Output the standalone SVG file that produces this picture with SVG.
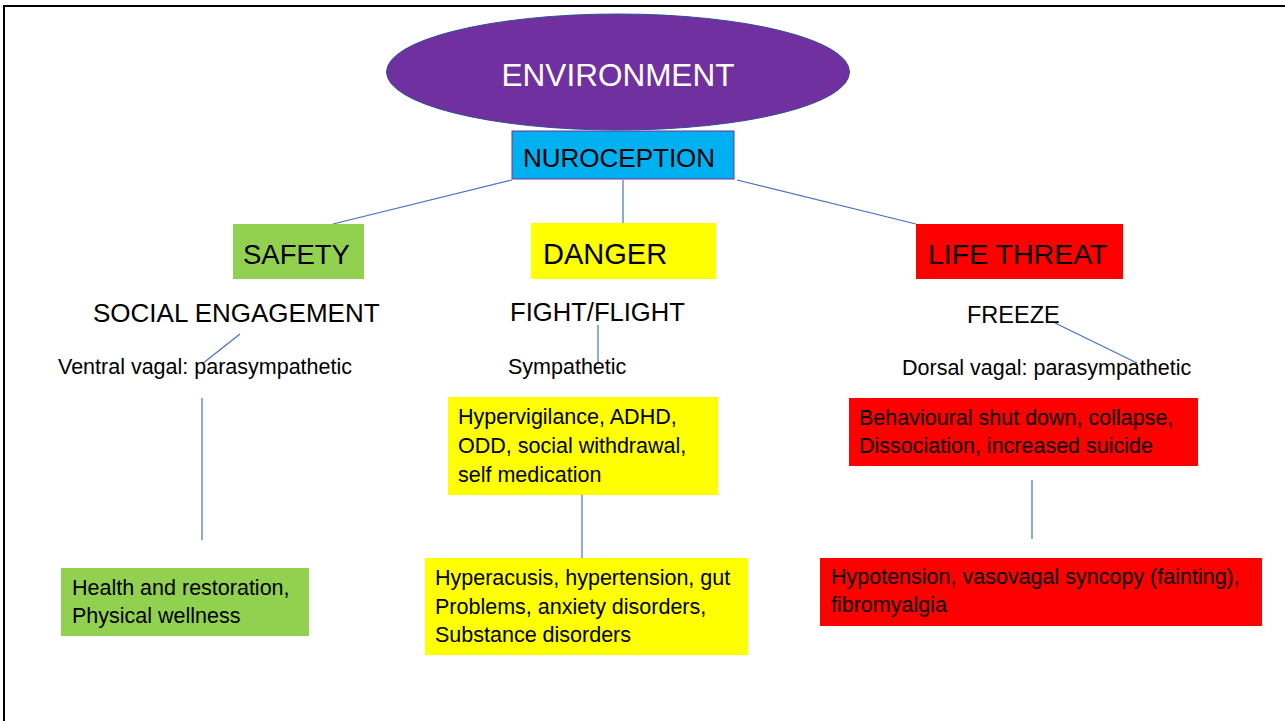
<svg xmlns="http://www.w3.org/2000/svg" width="1285" height="721" viewBox="0 0 1285 721">
<style>
text{font-family:"Liberation Sans",Arial,sans-serif;fill:#000}
.conn line{stroke:#4472C4;stroke-width:1.2;fill:none}
.sm{font-size:21.5px}
.hd{font-size:28px}
.md{font-size:26px}
</style>
<rect width="1285" height="721" fill="#fff"/>
<path d="M4,721 V6 H1285" fill="none" stroke="#000" stroke-width="2"/>
<g class="conn" id="connectors">
<line x1="512" y1="180" x2="333" y2="224"/>
<line x1="623" y1="180" x2="623" y2="223"/>
<line x1="737" y1="180" x2="916" y2="224"/>
<line x1="240" y1="334" x2="202" y2="364"/>
<line x1="598" y1="325" x2="598" y2="364"/>
<line x1="1055" y1="323" x2="1137" y2="363"/>
<line x1="202" y1="398" x2="202" y2="540"/>
<line x1="582" y1="495" x2="582" y2="558"/>
<line x1="1032" y1="480" x2="1032" y2="539"/>
</g>
<g id="environment">
<ellipse cx="618" cy="72" rx="231.5" ry="58" fill="#7030A0" stroke="#2F528F" stroke-width="1"/>
<text x="618" y="86" text-anchor="middle" style="font-size:31.5px;fill:#fff">ENVIRONMENT</text>
</g>
<g id="nuroception">
<rect x="512" y="131" width="222" height="48" fill="#00B0F0" stroke="#7030A0" stroke-width="1"/>
<text x="523" y="167" style="font-size:26px">NUROCEPTION</text>
</g>
<g id="safety">
<rect x="233" y="224" width="131" height="55" fill="#92D050"/>
<text x="243" y="264" class="hd" style="font-size:27.5px">SAFETY</text>
</g>
<g id="danger">
<rect x="531" y="223" width="185" height="56" fill="#FFFF00"/>
<text x="543" y="264" class="hd" style="font-size:29px">DANGER</text>
</g>
<g id="lifethreat">
<rect x="916" y="224" width="207" height="55" fill="#FF0000"/>
<text x="928" y="264" class="hd" style="font-size:28.5px">LIFE THREAT</text>
</g>
<g id="social">
<text x="93" y="322" class="md">SOCIAL ENGAGEMENT</text>
</g>
<g id="fight">
<text x="510" y="321" style="font-size:25.6px">FIGHT/FLIGHT</text>
</g>
<g id="freeze">
<text x="967" y="323" style="font-size:23.5px">FREEZE</text>
</g>
<g id="ventral">
<text x="58" y="374" class="sm">Ventral vagal: parasympathetic</text>
</g>
<g id="sympathetic">
<text x="508" y="374" class="sm">Sympathetic</text>
</g>
<g id="dorsal">
<text x="902" y="375" class="sm">Dorsal vagal: parasympathetic</text>
</g>
<g id="danger-effects">
<rect x="448" y="397" width="270" height="98" fill="#FFFF00"/>
<text x="458" y="424" class="sm">Hypervigilance, ADHD,</text>
<text x="458" y="453" class="sm">ODD, social withdrawal,</text>
<text x="458" y="482" class="sm">self medication</text>
</g>
<g id="danger-health">
<rect x="425" y="558" width="323" height="97" fill="#FFFF00"/>
<text x="435" y="585" class="sm">Hyperacusis, hypertension, gut</text>
<text x="435" y="614" class="sm">Problems, anxiety disorders,</text>
<text x="435" y="642" class="sm">Substance disorders</text>
</g>
<g id="safety-health">
<rect x="61" y="568" width="248" height="68" fill="#92D050"/>
<text x="72" y="595" class="sm">Health and restoration,</text>
<text x="72" y="623" class="sm">Physical wellness</text>
</g>
<g id="threat-effects">
<rect x="849" y="398" width="349" height="68" fill="#FF0000"/>
<text x="859" y="425" class="sm">Behavioural shut down, collapse,</text>
<text x="859" y="453" class="sm">Dissociation, increased suicide</text>
</g>
<g id="threat-health">
<rect x="820" y="558" width="442" height="68" fill="#FF0000"/>
<text x="831" y="584" class="sm">Hypotension, vasovagal syncopy (fainting),</text>
<text x="831" y="612" class="sm">fibromyalgia</text>
</g>
</svg>
